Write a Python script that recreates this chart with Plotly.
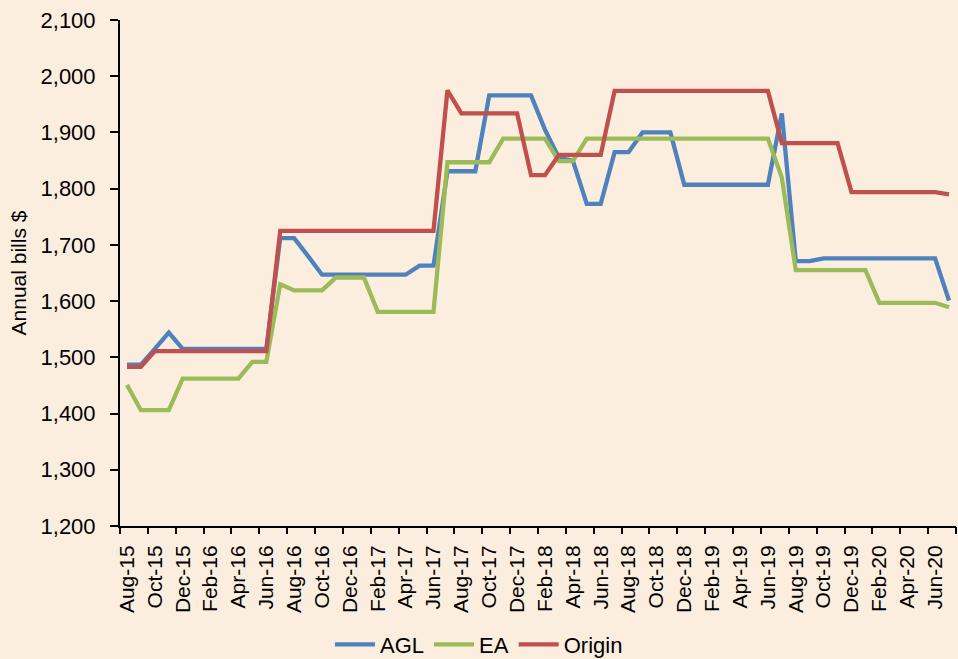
import plotly.graph_objects as go

months = ["Aug-15","Sep-15","Oct-15","Nov-15","Dec-15","Jan-16","Feb-16","Mar-16","Apr-16","May-16",
          "Jun-16","Jul-16","Aug-16","Sep-16","Oct-16","Nov-16","Dec-16","Jan-17","Feb-17","Mar-17",
          "Apr-17","May-17","Jun-17","Jul-17","Aug-17","Sep-17","Oct-17","Nov-17","Dec-17","Jan-18",
          "Feb-18","Mar-18","Apr-18","May-18","Jun-18","Jul-18","Aug-18","Sep-18","Oct-18","Nov-18",
          "Dec-18","Jan-19","Feb-19","Mar-19","Apr-19","May-19","Jun-19","Jul-19","Aug-19","Sep-19",
          "Oct-19","Nov-19","Dec-19","Jan-20","Feb-20","Mar-20","Apr-20","May-20","Jun-20","Jul-20"]

agl = [1487, 1487, 1515, 1544, 1515, 1515, 1515, 1515, 1515, 1515,
       1515, 1712, 1712, 1680, 1647, 1647, 1647, 1647, 1647, 1647,
       1647, 1663, 1663, 1831, 1831, 1831, 1966, 1966, 1966, 1966,
       1905, 1855, 1850, 1773, 1773, 1865, 1865, 1900, 1900, 1900,
       1807, 1807, 1807, 1807, 1807, 1807, 1807, 1934, 1671, 1671,
       1676, 1676, 1676, 1676, 1676, 1676, 1676, 1676, 1676, 1601]

ea = [1451, 1406, 1406, 1406, 1462, 1462, 1462, 1462, 1462, 1492,
      1492, 1630, 1619, 1619, 1619, 1642, 1642, 1642, 1581, 1581,
      1581, 1581, 1581, 1847, 1847, 1847, 1847, 1889, 1889, 1889,
      1889, 1849, 1849, 1889, 1889, 1889, 1889, 1889, 1889, 1889,
      1889, 1889, 1889, 1889, 1889, 1889, 1889, 1820, 1655, 1655,
      1655, 1655, 1655, 1655, 1597, 1597, 1597, 1597, 1597, 1589]

origin = [1483, 1483, 1511, 1511, 1511, 1511, 1511, 1511, 1511, 1511,
          1511, 1725, 1725, 1725, 1725, 1725, 1725, 1725, 1725, 1725,
          1725, 1725, 1725, 1975, 1934, 1934, 1934, 1934, 1934, 1824,
          1824, 1860, 1860, 1860, 1860, 1974, 1974, 1974, 1974, 1974,
          1974, 1974, 1974, 1974, 1974, 1974, 1974, 1881, 1881, 1881,
          1881, 1881, 1794, 1794, 1794, 1794, 1794, 1794, 1794, 1790]

series_names = ["AGL", "EA", "Origin"]
series_colors = ["#4F81BD", "#9BBB59", "#C0504D"]
tick_labels = months[::2]
y_ticks = list(range(1200, 2101, 100))

FONT = "Liberation Sans, Arial, sans-serif"
BG = "#FCEEDE"

fig = go.Figure()
for name, vals, col in zip(series_names, [agl, ea, origin], series_colors):
    fig.add_trace(go.Scatter(x=months, y=vals, name=name, mode="lines",
                             line=dict(color=col, width=4.3), hoverinfo="x+y+name"))

# helper trace so the boundary-tick axis is drawn
fig.add_trace(go.Scatter(x=[0], y=[None], xaxis="x2", showlegend=False,
                         hoverinfo="skip", mode="lines"))

n = len(months)
boundaries = [-0.5 + k for k in range(0, n + 1, 2)]

fig.update_layout(
    width=958, height=659,
    paper_bgcolor=BG, plot_bgcolor=BG,
    margin=dict(l=120, r=2, t=20, b=133),
    font=dict(family=FONT, size=21, color="#000000"),
    showlegend=True,
    legend=dict(orientation="h", xref="container", yref="container",
                x=0.5, xanchor="center", y=0.022, yanchor="middle",
                font=dict(size=22), bgcolor="rgba(0,0,0,0)",
                itemwidth=40, tracegroupgap=0),
    xaxis=dict(type="category", categoryorder="array", categoryarray=months,
               range=[-0.5, n - 0.5], tickmode="array", tickvals=tick_labels,
               ticktext=tick_labels, tickangle=-90, ticks="",
               ticklabelstandoff=9,
               showline=True, linecolor="#000000", linewidth=2,
               showgrid=False, zeroline=False, tickfont=dict(size=21)),
    xaxis2=dict(overlaying="x", anchor="y", side="bottom", type="linear",
                range=[-0.5, n - 0.5], tickmode="array", tickvals=boundaries,
                ticks="outside", ticklen=7, tickwidth=2, tickcolor="#000000",
                showticklabels=False, showline=False, showgrid=False, zeroline=False),
    yaxis=dict(range=[1200, 2100], tickmode="array", tickvals=y_ticks,
               tickformat=",", ticks="outside", ticklen=8, tickwidth=2,
               tickcolor="#000000", showline=True, linecolor="#000000",
               linewidth=2, showgrid=False, zeroline=False,
               ticklabelstandoff=10,
               tickfont=dict(size=22),
               title=dict(text="Annual bills $", font=dict(size=21), standoff=8)),
)

fig.write_html("out.html", config={"displayModeBar": False},
               post_script="document.body.style.margin='0';")
